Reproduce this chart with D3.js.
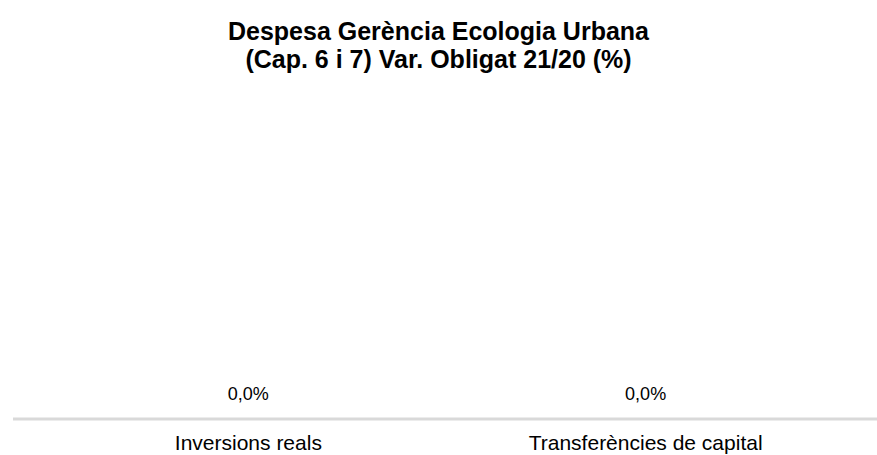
<!DOCTYPE html>
<html>
<head>
<meta charset="utf-8">
<script src="https://cdn.jsdelivr.net/npm/d3@7"></script>
<style>
  html, body { margin: 0; padding: 0; background: #fff; }
  svg { display: block; font-family: "Liberation Sans", Arial, sans-serif; }
</style>
</head>
<body>
<svg id="chart" width="877" height="455"></svg>
<script>
// Capital expenditure categories (chapters 6 and 7) and their 2021/2020 variation, in %
const categories = ["Inversions reals", "Transferències de capital"];
const variation = [0.0, 0.0];
const titleLines = ["Despesa Gerència Ecologia Urbana", "(Cap. 6 i 7) Var. Obligat 21/20 (%)"];

const W = 877, H = 455;
const baselineY = 419;

const svg = d3.select("#chart");

const x = d3.scaleBand()
  .domain(categories)
  .range([10, 884])
  .padding(0.2);

const y = d3.scaleLinear()
  .domain([0, 1])
  .range([baselineY, 90]);

const fmt = v => d3.format(".1f")(v).replace(".", ",") + "%";

// Title
svg.append("g")
  .selectAll("text")
  .data(titleLines)
  .join("text")
  .attr("x", W / 2)
  .attr("y", (d, i) => 40 + i * 28)
  .attr("text-anchor", "middle")
  .attr("font-size", 25)
  .attr("font-weight", "bold")
  .attr("fill", "#000")
  .text(d => d);

// Bars (zero height at this variation)
svg.append("g")
  .selectAll("rect")
  .data(variation)
  .join("rect")
  .attr("x", (d, i) => x(categories[i]))
  .attr("width", x.bandwidth())
  .attr("y", d => Math.min(y(d), y(0)))
  .attr("height", d => Math.abs(y(d) - y(0)))
  .attr("fill", "#4a7ebb");

// Baseline
svg.append("line")
  .attr("x1", 13)
  .attr("x2", W)
  .attr("y1", y(0))
  .attr("y2", y(0))
  .attr("stroke", "#d9d9d9")
  .attr("stroke-width", 3);

// Category labels
const axis = svg.append("g")
  .attr("transform", `translate(0,${y(0)})`)
  .call(d3.axisBottom(x).tickSize(0).tickPadding(16));
axis.select(".domain").remove();
axis.selectAll(".tick text")
  .attr("font-size", 21)
  .attr("font-family", "Liberation Sans, Arial, sans-serif")
  .attr("fill", "#000");

// Value labels
svg.append("g")
  .selectAll("text")
  .data(variation)
  .join("text")
  .attr("x", (d, i) => x(categories[i]) + x.bandwidth() / 2)
  .attr("y", d => y(d) - 19)
  .attr("text-anchor", "middle")
  .attr("font-size", 18)
  .attr("fill", "#000")
  .text(d => fmt(d));
</script>
</body>
</html>
